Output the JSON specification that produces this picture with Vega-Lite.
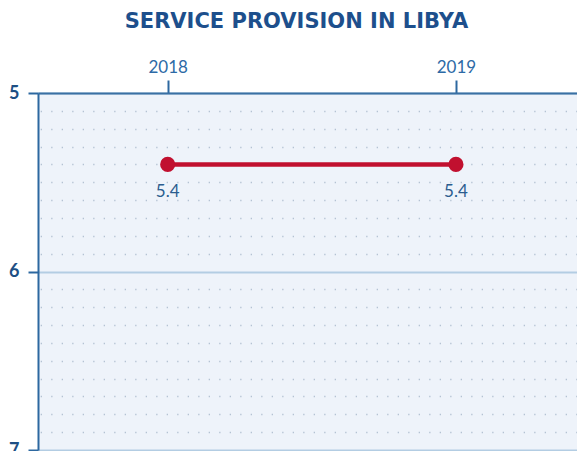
{
  "$schema": "https://vega.github.io/schema/vega-lite/v6.json",
  "autosize": {"type": "none"},
  "padding": {"left": 38, "top": 93, "right": 0, "bottom": 1},
  "width": 539,
  "height": 357,
  "background": "#ffffff",
  "title": {
    "text": "SERVICE PROVISION IN LIBYA",
    "font": "DejaVu Sans",
    "fontWeight": "bold",
    "fontSize": 21,
    "color": "#1d4f8c",
    "anchor": "middle",
    "dx": -11,
    "offset": 26
  },
  "config": {
    "view": {"fill": "#eef3fa", "stroke": null},
    "font": "Lato"
  },
  "data": {"values": [
    {"year": 2018, "value": 5.4},
    {"year": 2019, "value": 5.4}
  ]},
  "encoding": {
    "x": {
      "field": "year", "type": "quantitative",
      "scale": {"domain": [2017.55, 2019.42], "nice": false, "zero": false},
      "axis": {
        "orient": "top", "title": null, "values": [2018, 2019], "format": "d",
        "grid": false, "tickSize": 13, "tickWidth": 2, "tickColor": "#2d68a0",
        "domainColor": "#3a70a3", "domainWidth": 2,
        "labelFont": "Lato", "labelFontSize": 17, "labelColor": "#2d6aa6", "labelPadding": 4
      }
    }
  },
  "layer": [
    {
      "mark": {"type": "line", "color": "#c1102f", "strokeWidth": 4.5},
      "encoding": {
        "y": {
          "field": "value", "type": "quantitative",
          "scale": {"domain": [5, 7], "reverse": true, "nice": false, "zero": false},
          "axis": {
            "orient": "left", "title": null, "values": [5, 6, 7], "format": ".0f",
            "grid": true, "gridColor": "#b3cde3", "gridWidth": 2,
            "tickSize": 10, "tickWidth": 2, "tickColor": "#2d68a0",
            "domainColor": "#2d68a0", "domainWidth": 2,
            "labelFont": "Lato", "labelFontWeight": "bold", "labelFontSize": 18,
            "labelColor": "#1d4f84", "labelPadding": 9, "labelOverlap": false
          }
        }
      }
    },
    {
      "mark": {"type": "point", "filled": true, "color": "#c1102f", "opacity": 1, "size": 230},
      "encoding": {
        "y": {
          "field": "value", "type": "quantitative",
          "scale": {"domain": [5, 7], "reverse": true, "nice": false, "zero": false},
          "axis": {
            "orient": "right", "title": null,
            "values": [5.1, 5.2, 5.3, 5.4, 5.5, 5.6, 5.7, 5.8, 5.9, 6.1, 6.2, 6.3, 6.4, 6.5, 6.6, 6.7, 6.8, 6.9],
            "grid": true, "gridColor": "#b4c2d3", "gridWidth": 1.3, "gridDash": [1.3, 9.2],
            "domain": false, "ticks": false, "labels": false
          }
        }
      }
    },
    {
      "mark": {"type": "text", "dy": 28, "fontSize": 17, "font": "Lato", "color": "#2b5d8f"},
      "encoding": {
        "y": {
          "field": "value", "type": "quantitative",
          "scale": {"domain": [5, 7], "reverse": true, "nice": false, "zero": false},
          "axis": null
        },
        "text": {"field": "value", "type": "quantitative", "format": ".1f"}
      }
    }
  ],
  "resolve": {"axis": {"y": "independent"}}
}
